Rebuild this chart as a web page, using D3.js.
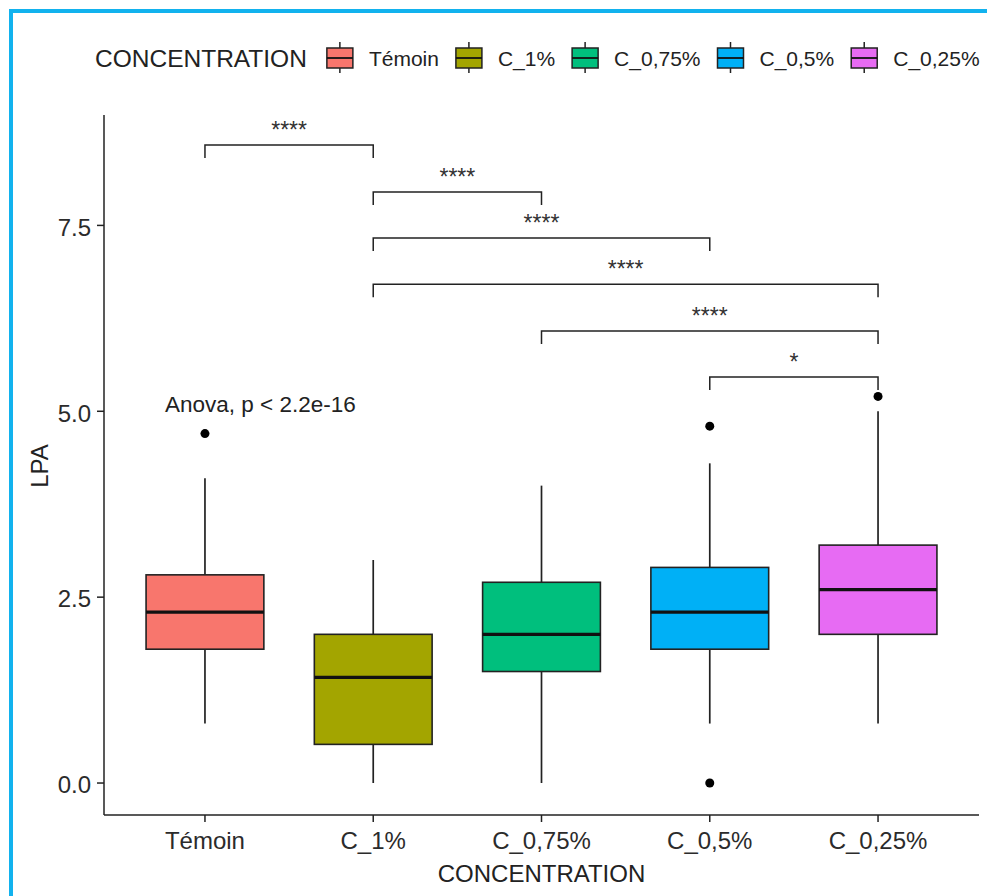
<!DOCTYPE html>
<html lang="en">
<head>
  <meta charset="UTF-8">
  <title>LPA by concentration</title>
  <style>
    body { margin: 0; background: #fff; }
    svg { display: block; font-family: "Liberation Sans", Arial, sans-serif; }
  </style>
</head>
<body>
  <svg></svg>
  <script src="https://d3js.org/d3.v7.min.js"></script>
  <script>
    // data
    var categories = ["Témoin", "C_1%", "C_0,75%", "C_0,5%", "C_0,25%"];
    var colors = ["#F8766D", "#A3A500", "#00BF7D", "#00B0F6", "#E76BF3"];
    var q1 = [1.8, 0.52, 1.5, 1.8, 2.0];
    var medians = [2.3, 1.42, 2.0, 2.3, 2.6];
    var q3 = [2.8, 2.0, 2.7, 2.9, 3.2];
    var whiskerLow = [0.8, 0, 0, 0.8, 0.8];
    var whiskerHigh = [4.1, 3.0, 4.0, 4.3, 5.0];
    var outliers = [[4.7], [], [], [4.8, 0], [5.2]];
    var yTicks = [0, 2.5, 5, 7.5];

    // pairwise comparisons shown as brackets
    var compFrom = ["Témoin", "C_1%", "C_1%", "C_1%", "C_0,75%", "C_0,5%"];
    var compTo = ["C_1%", "C_0,75%", "C_0,5%", "C_0,25%", "C_0,25%", "C_0,25%"];
    var compY = [8.58, 7.95, 7.33, 6.71, 6.08, 5.46];
    var compLabel = ["****", "****", "****", "****", "****", "*"];
    var anovaLabel = "Anova, p < 2.2e-16";

    var width = 987, height = 896;
    var svg = d3.select("svg").attr("width", width).attr("height", height);

    var x = d3.scalePoint().domain(categories).range([104, 979]).padding(0.6);
    var y = d3.scaleLinear().domain([-0.43, 8.985]).range([815, 115]);
    var boxW = x.step() * 0.7;

    // axes
    svg.append("line").attr("x1", 104).attr("x2", 104).attr("y1", 115).attr("y2", 815)
      .attr("stroke", "#222").attr("stroke-width", 1.5);
    svg.append("line").attr("x1", 104).attr("x2", 979).attr("y1", 815).attr("y2", 815)
      .attr("stroke", "#222").attr("stroke-width", 1.5);

    svg.selectAll(".ytick").data(yTicks).enter().append("line")
      .attr("x1", 97).attr("x2", 104)
      .attr("y1", d => y(d)).attr("y2", d => y(d))
      .attr("stroke", "#222").attr("stroke-width", 1.5);
    svg.selectAll(".ylab").data(yTicks).enter().append("text")
      .attr("x", 91).attr("y", d => y(d) + 4)
      .attr("text-anchor", "end").attr("dominant-baseline", "middle")
      .attr("font-size", 24).attr("fill", "#2b2b2b")
      .text(d => d3.format(".1f")(d));

    svg.selectAll(".xtick").data(categories).enter().append("line")
      .attr("x1", d => x(d)).attr("x2", d => x(d))
      .attr("y1", 815).attr("y2", 822)
      .attr("stroke", "#222").attr("stroke-width", 1.5);
    svg.selectAll(".xlab").data(categories).enter().append("text")
      .attr("x", d => x(d)).attr("y", 849)
      .attr("text-anchor", "middle")
      .attr("font-size", 24).attr("fill", "#2b2b2b")
      .text(d => d);

    svg.append("text").attr("x", x.range()[0] + (979 - 104) / 2).attr("y", 882)
      .attr("text-anchor", "middle").attr("font-size", 24).attr("fill", "#222")
      .text("CONCENTRATION");
    svg.append("text").attr("transform", "translate(48,466) rotate(-90)")
      .attr("text-anchor", "middle").attr("font-size", 24).attr("fill", "#222")
      .text("LPA");

    // boxes
    var g = svg.selectAll(".box").data(categories).enter().append("g");
    g.append("line")
      .attr("x1", d => x(d)).attr("x2", d => x(d))
      .attr("y1", (d, i) => y(whiskerHigh[i])).attr("y2", (d, i) => y(q3[i]))
      .attr("stroke", "#222").attr("stroke-width", 1.7);
    g.append("line")
      .attr("x1", d => x(d)).attr("x2", d => x(d))
      .attr("y1", (d, i) => y(q1[i])).attr("y2", (d, i) => y(whiskerLow[i]))
      .attr("stroke", "#222").attr("stroke-width", 1.7);
    g.append("rect")
      .attr("x", d => x(d) - boxW / 2).attr("width", boxW)
      .attr("y", (d, i) => y(q3[i])).attr("height", (d, i) => y(q1[i]) - y(q3[i]))
      .attr("fill", (d, i) => colors[i])
      .attr("stroke", "#222").attr("stroke-width", 1.6);
    g.append("line")
      .attr("x1", d => x(d) - boxW / 2).attr("x2", d => x(d) + boxW / 2)
      .attr("y1", (d, i) => y(medians[i])).attr("y2", (d, i) => y(medians[i]))
      .attr("stroke", "#111").attr("stroke-width", 3.2);
    g.each(function(d, i) {
      d3.select(this).selectAll("circle").data(outliers[i]).enter().append("circle")
        .attr("cx", x(d)).attr("cy", v => y(v)).attr("r", 4.5).attr("fill", "#000");
    });

    // comparison brackets
    compY.forEach(function(v, i) {
      var x1 = x(compFrom[i]), x2 = x(compTo[i]), yy = y(v);
      svg.append("path")
        .attr("d", "M" + x1 + "," + (yy + 13) + "V" + yy + "H" + x2 + "V" + (yy + 13))
        .attr("fill", "none").attr("stroke", "#222").attr("stroke-width", 1.5);
      svg.append("text").attr("x", (x1 + x2) / 2).attr("y", yy - 7)
        .attr("text-anchor", "middle").attr("font-size", 23).attr("fill", "#333")
        .text(compLabel[i]);
    });

    svg.append("text").attr("x", 165).attr("y", 412)
      .attr("font-size", 22.5).attr("fill", "#222").text(anovaLabel);

    // legend
    var lg = svg.append("g");
    var title = lg.append("text").attr("x", 95).attr("y", 67)
      .attr("font-size", 24.5).attr("fill", "#222").text("CONCENTRATION");
    var lx = 95 + title.node().getComputedTextLength() + 20;
    categories.forEach(function(c, i) {
      var k = lg.append("g").attr("transform", "translate(" + lx + ",0)");
      k.append("line").attr("x1", 13).attr("x2", 13).attr("y1", 42).attr("y2", 73)
        .attr("stroke", "#222").attr("stroke-width", 1.5);
      k.append("rect").attr("x", 0).attr("y", 48).attr("width", 26).attr("height", 20)
        .attr("fill", colors[i]).attr("stroke", "#222").attr("stroke-width", 1.5);
      k.append("line").attr("x1", 0).attr("x2", 26).attr("y1", 58).attr("y2", 58)
        .attr("stroke", "#111").attr("stroke-width", 1.8);
      var t = lg.append("text").attr("x", lx + 42).attr("y", 66)
        .attr("font-size", 21).attr("fill", "#222").text(c);
      lx += 42 + t.node().getComputedTextLength() + 17;
    });

    // blue frame
    svg.append("rect").attr("x", 11).attr("y", 11).attr("width", 1200).attr("height", 1200)
      .attr("fill", "none").attr("stroke", "#12B2EE").attr("stroke-width", 4);
  </script>
</body>
</html>
